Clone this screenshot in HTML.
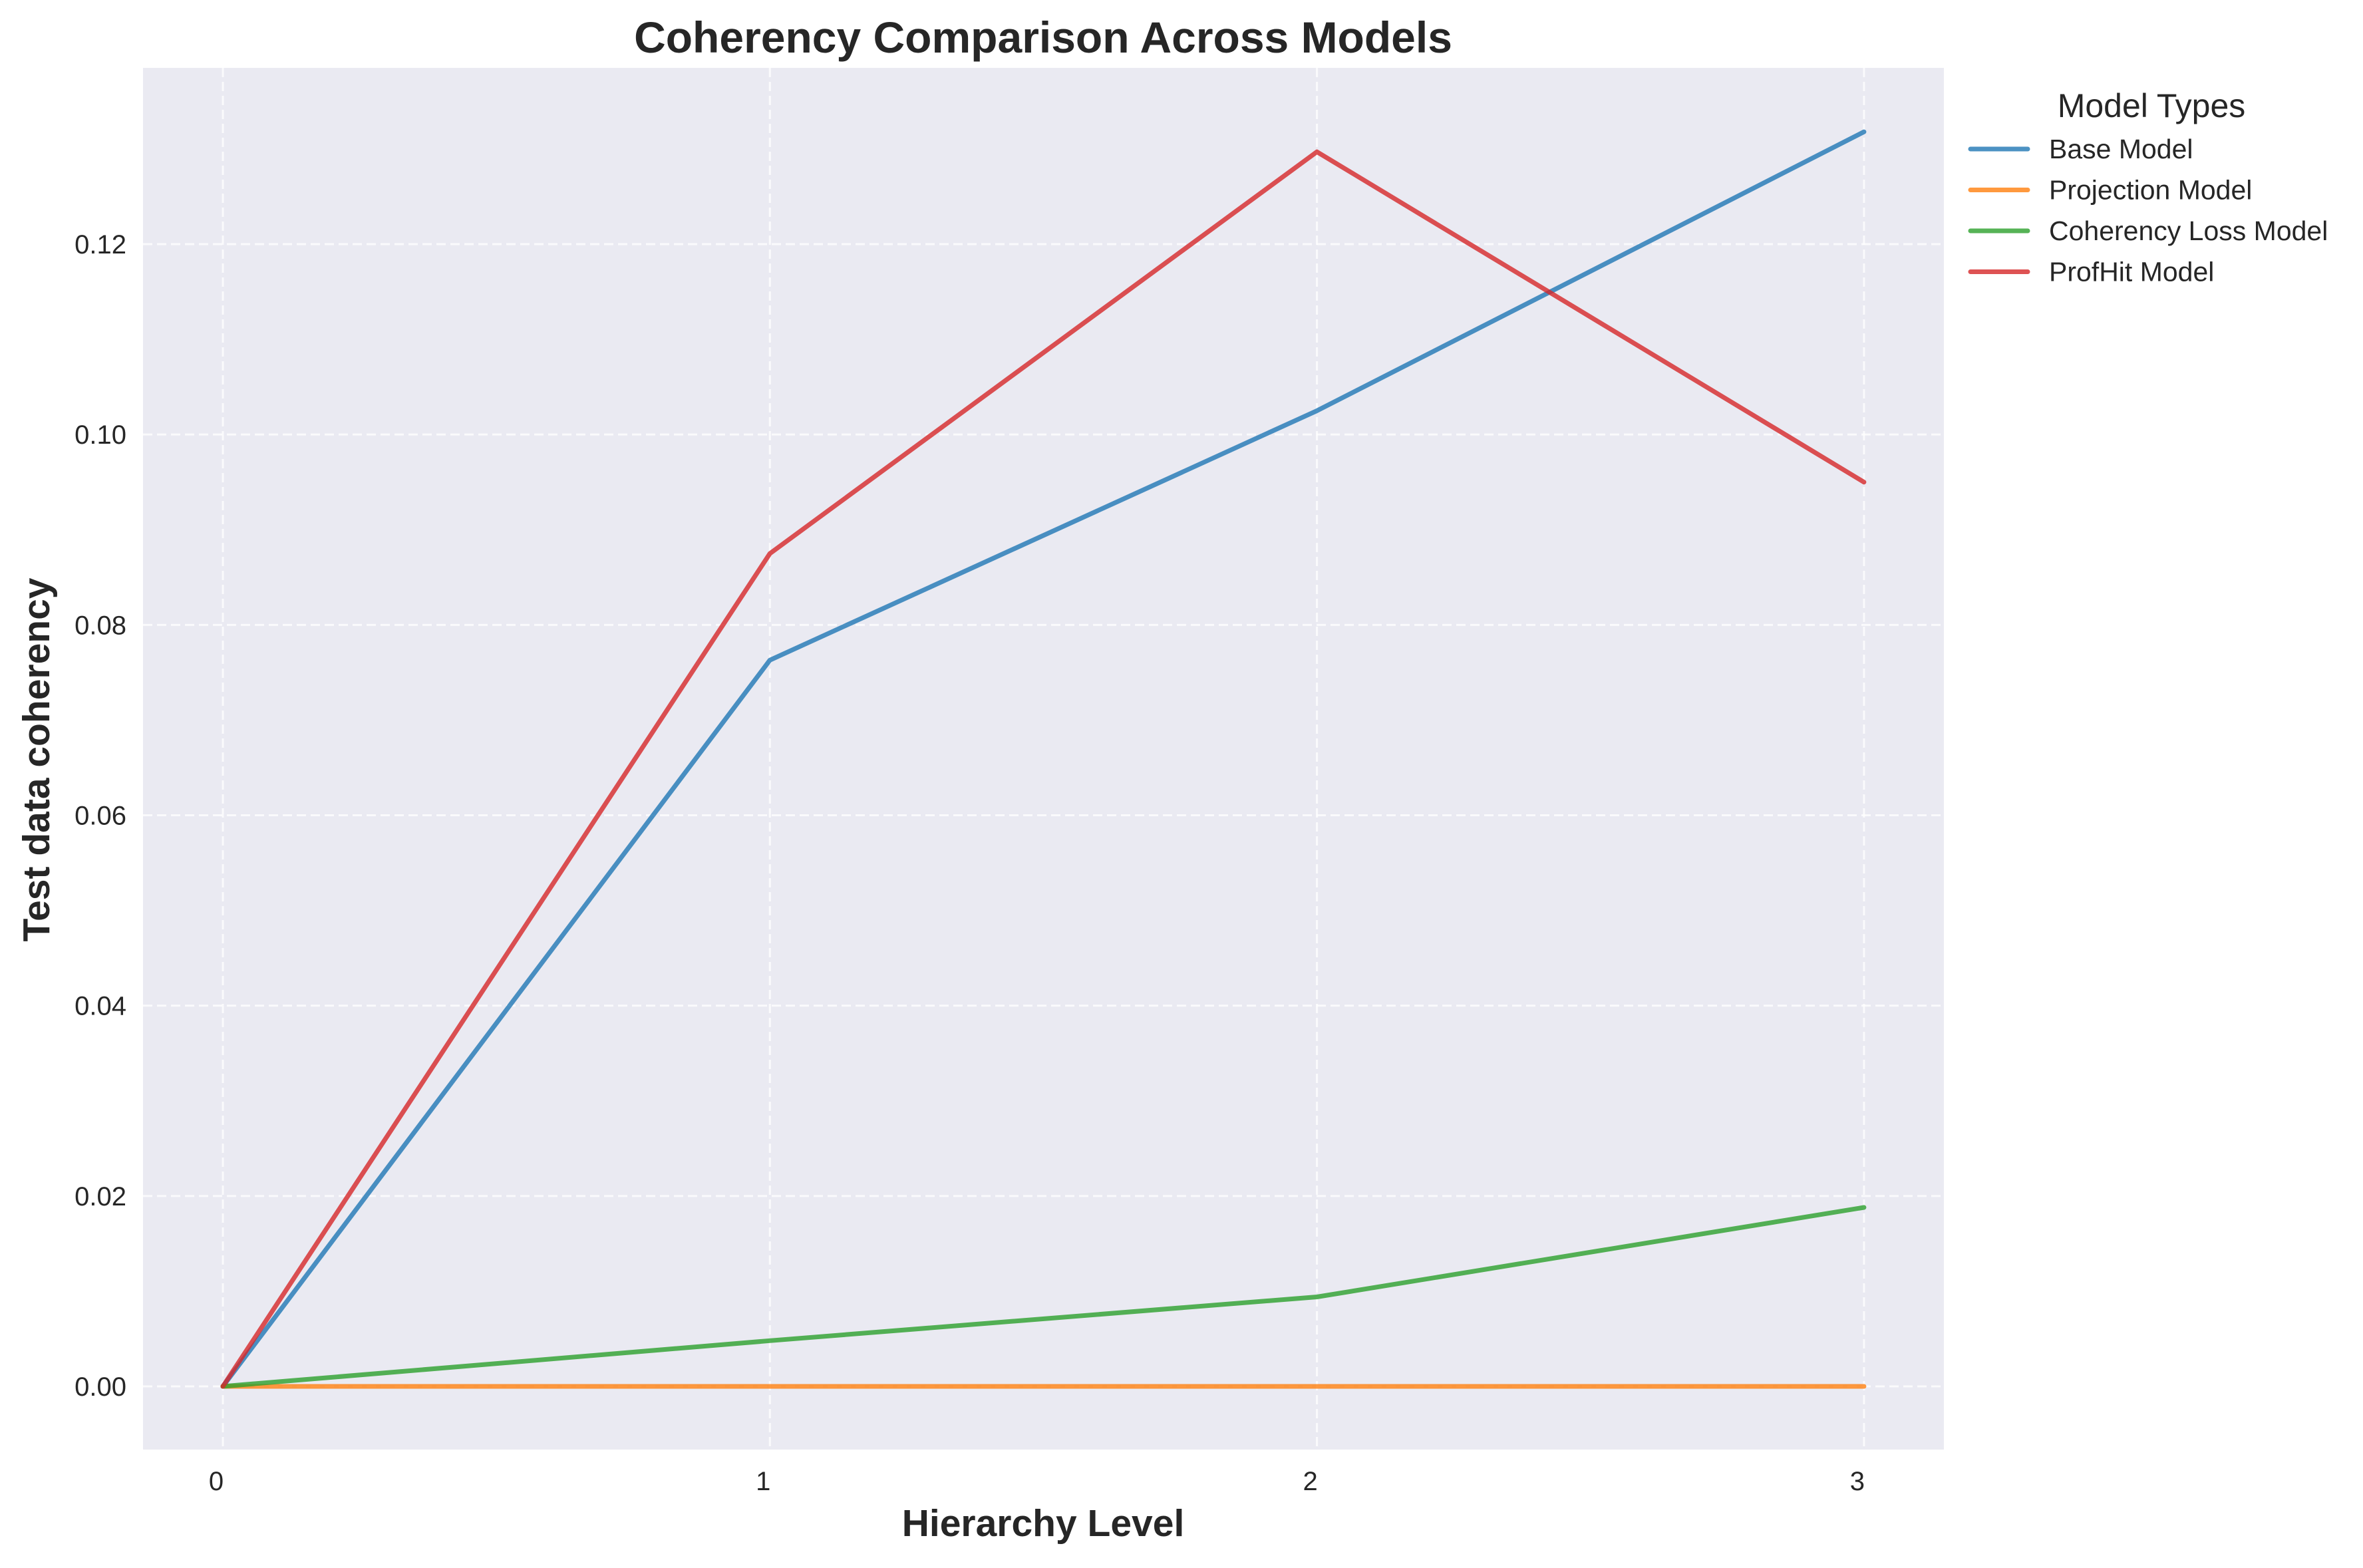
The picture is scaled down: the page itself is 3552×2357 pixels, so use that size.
<!DOCTYPE html>
<html><head><meta charset="utf-8"><style>
body{margin:0;background:#fff}
svg text{font-family:"Liberation Sans",sans-serif;fill:#262626}
</style></head><body>
<svg id="chart" width="3552" height="2352" viewBox="0 0 3552 2352" xmlns="http://www.w3.org/2000/svg">
<rect x="215" y="102" width="2707" height="2077" fill="#eaeaf2"/>
<g id="grid"></g>
<g id="series"></g>
<g id="ticks"></g>
<text x="1568" y="79" text-anchor="middle" font-size="66" font-weight="bold">Coherency Comparison Across Models</text>
<text x="1568" y="2309" text-anchor="middle" font-size="57" font-weight="bold">Hierarchy Level</text>
<text transform="translate(74,1142) rotate(-90)" text-anchor="middle" font-size="57" font-weight="bold">Test data coherency</text>
<g id="legend">
<text x="3234" y="176" text-anchor="middle" font-size="50">Model Types</text>
</g>
</svg>
<script>
const categories=[0,1,2,3];
const seriesNames=["Base Model","Projection Model","Coherency Loss Model","ProfHit Model"];
const baseModel=[0,0.0763,0.1025,0.1318];
const projectionModel=[0,0,0,0];
const coherencyLossModel=[0,0.0048,0.0094,0.0188];
const profHitModel=[0,0.0875,0.1297,0.0950];
const yTicks=[0,0.02,0.04,0.06,0.08,0.10,0.12];
const yTickLabels=["0.00","0.02","0.04","0.06","0.08","0.10","0.12"];
const xTickLabels=["0","1","2","3"];
const colors=["#1f77b4","#ff7f0e","#2ca02c","#d62728"];
const NS="http://www.w3.org/2000/svg";
const xs=v=>335+v*822.3;
const ys=v=>2084-v*(2084-367)/0.12;
function mk(tag,attrs,parent){const e=document.createElementNS(NS,tag);for(const k in attrs)e.setAttribute(k,attrs[k]);parent.appendChild(e);return e;}
const grid=document.getElementById('grid'),ser=document.getElementById('series'),tk=document.getElementById('ticks'),lg=document.getElementById('legend');
yTicks.forEach((t,i)=>{
 const l=mk('line',{x1:215,x2:2922,y1:ys(t),y2:ys(t),stroke:"#fff","stroke-width":3,"stroke-dasharray":"14,7",opacity:0.8},grid);
 
 
 const tx=mk('text',{x:190,y:ys(t)+14,"text-anchor":"end","font-size":40},tk);tx.textContent=yTickLabels[i];
 
 
});
categories.forEach((c,i)=>{
 const l=mk('line',{x1:xs(c),x2:xs(c),y1:102,y2:2179,stroke:"#fff","stroke-width":3,"stroke-dasharray":"14,7",opacity:0.8},grid);
 
 
 const tx=mk('text',{x:xs(c)-10,y:2240,"text-anchor":"middle","font-size":40},tk);tx.textContent=xTickLabels[i];
 
 
});
const all=[baseModel,projectionModel,coherencyLossModel,profHitModel];
all.forEach((d,si)=>{
 const p=mk('polyline',{points:d.map((v,i)=>xs(categories[i])+","+ys(v)).join(" "),fill:"none",stroke:colors[si],"stroke-width":7,"stroke-opacity":0.8,"stroke-linejoin":"round","stroke-linecap":"round"},ser);
 
 
 const y=224+si*61.5;
 const ll=mk('line',{x1:2962,x2:3048,y1:y,y2:y,stroke:colors[si],"stroke-width":7,"stroke-opacity":0.8,"stroke-linecap":"round"},lg);
 
 
 const lt=mk('text',{x:3080,y:y+14,"font-size":41},lg);lt.textContent=seriesNames[si];
 
 
});
</script>
</body></html>
